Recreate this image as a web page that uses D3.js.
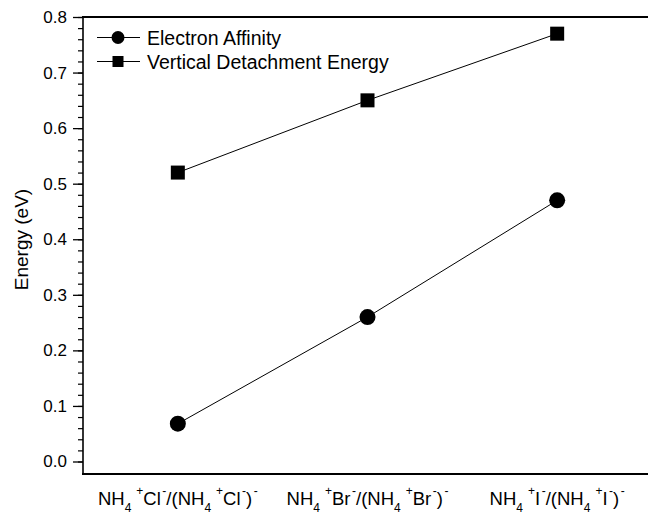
<!DOCTYPE html>
<html>
<head>
<meta charset="utf-8">
<script src="https://cdn.jsdelivr.net/npm/d3@7"></script>
<style>
  html, body { margin: 0; padding: 0; background: #fff; }
  svg { display: block; font-family: "Liberation Sans", Arial, sans-serif; }
</style>
</head>
<body>
<svg width="648" height="512"></svg>
<script>
// chart data: categories use _x for subscript and ^x for superscript
const categories = ["NH_4^+Cl^-/(NH_4^+Cl^-)^-", "NH_4^+Br^-/(NH_4^+Br^-)^-", "NH_4^+I^-/(NH_4^+I^-)^-"];
const electronAffinity = [0.068, 0.26, 0.47];
const detachmentEnergy = [0.52, 0.65, 0.77];
const yTicks = [0.0, 0.1, 0.2, 0.3, 0.4, 0.5, 0.6, 0.7, 0.8];
const yMinorTicks = d3.range(0, 0.8001, 0.02);
const seriesNames = ["Electron Affinity", "Vertical Detachment Energy"];

const svg = d3.select("svg");

// plot box (right side runs off the picture)
const plotLeft = 83, plotTop = 17, plotBottom = 474, plotRight = 652;

const x = d3.scalePoint().domain(categories).range([plotLeft, plotRight]).padding(0.5);
const y = d3.scaleLinear().domain([-0.0225, 0.8]).range([plotBottom, plotTop]);

// y axis, major ticks outward
const yAxis = svg.append("g")
  .attr("transform", `translate(${plotLeft},0)`)
  .call(d3.axisLeft(y).tickValues(yTicks).tickFormat(d3.format(".1f")).tickSize(10).tickPadding(6))
  .call(g => g.select(".domain").remove());
yAxis.selectAll(".tick line").attr("stroke", "#000").attr("stroke-width", 1.3);
yAxis.selectAll(".tick text")
  .attr("font-size", 17)
  .attr("font-family", "Liberation Sans, Arial, sans-serif")
  .attr("fill", "#000");

// minor ticks
svg.append("g")
  .attr("transform", `translate(${plotLeft},0)`)
  .call(d3.axisLeft(y).tickValues(yMinorTicks).tickFormat("").tickSize(5))
  .call(g => g.select(".domain").remove())
  .selectAll(".tick line").attr("stroke", "#000").attr("stroke-width", 1.2);

// frame lines
svg.append("line").attr("x1", plotLeft).attr("x2", plotLeft).attr("y1", plotTop - 1).attr("y2", plotBottom + 1)
  .attr("stroke", "#000").attr("stroke-width", 1.6);
svg.append("line").attr("x1", plotLeft - 1).attr("x2", 648).attr("y1", plotTop).attr("y2", plotTop)
  .attr("stroke", "#000").attr("stroke-width", 2.2);
svg.append("line").attr("x1", plotLeft - 1).attr("x2", 648).attr("y1", plotBottom).attr("y2", plotBottom)
  .attr("stroke", "#000").attr("stroke-width", 2);

// y title
svg.append("text")
  .attr("transform", `translate(28,${(plotTop + plotBottom) / 2 - 6}) rotate(-90)`)
  .attr("text-anchor", "middle")
  .attr("font-size", 19)
  .text("Energy (eV)");

// x category labels with sub/superscripts
const xLabels = svg.append("g");
categories.forEach((c) => {
  const t = xLabels.append("text")
    .attr("x", x(c))
    .attr("y", 505)
    .attr("text-anchor", "middle")
    .attr("font-size", 18.5);
  const parts = c.match(/[_^].|[^_^]+/g);
  let shift = 0;
  parts.forEach((p) => {
    let dy = 0, dx = 0, txt = p, size = 18.5;
    if (p[0] === "_") { dy = 7 - shift; shift = 7; txt = p[1]; size = 12; }
    else if (p[0] === "^") {
      dy = -10 - shift; shift = -10; txt = p[1]; size = 12;
      dx = txt === "+" ? 5 : 1.5;
    }
    else { dy = -shift; shift = 0; }
    t.append("tspan").attr("dy", dy).attr("dx", dx).attr("font-size", size).text(txt);
  });
});

// series lines
const line = d3.line().x((d, i) => x(categories[i])).y((d) => y(d));
[electronAffinity, detachmentEnergy].forEach((s) => {
  svg.append("path").datum(s)
    .attr("d", line)
    .attr("fill", "none")
    .attr("stroke", "#000")
    .attr("stroke-width", 1);
});

// markers
svg.append("g").selectAll("circle").data(electronAffinity).join("circle")
  .attr("cx", (d, i) => x(categories[i]))
  .attr("cy", (d) => y(d))
  .attr("r", 8)
  .attr("fill", "#000");
svg.append("g").selectAll("rect").data(detachmentEnergy).join("rect")
  .attr("x", (d, i) => x(categories[i]) - 7)
  .attr("y", (d) => y(d) - 7)
  .attr("width", 14)
  .attr("height", 14)
  .attr("fill", "#000");

// legend
const legend = svg.append("g");
seriesNames.forEach((name, i) => {
  const ly = 37.5 + i * 24;
  legend.append("line").attr("x1", 97).attr("x2", 140).attr("y1", ly).attr("y2", ly)
    .attr("stroke", "#000").attr("stroke-width", 1);
  if (i === 0) {
    legend.append("circle").attr("cx", 118).attr("cy", ly).attr("r", 6.5).attr("fill", "#000");
  } else {
    legend.append("rect").attr("x", 112.5).attr("y", ly - 5.5).attr("width", 11).attr("height", 11).attr("fill", "#000");
  }
  legend.append("text").attr("x", 147).attr("y", ly + 7.5)
    .attr("font-size", 19.5)
    .text(name);
});
</script>
</body>
</html>
